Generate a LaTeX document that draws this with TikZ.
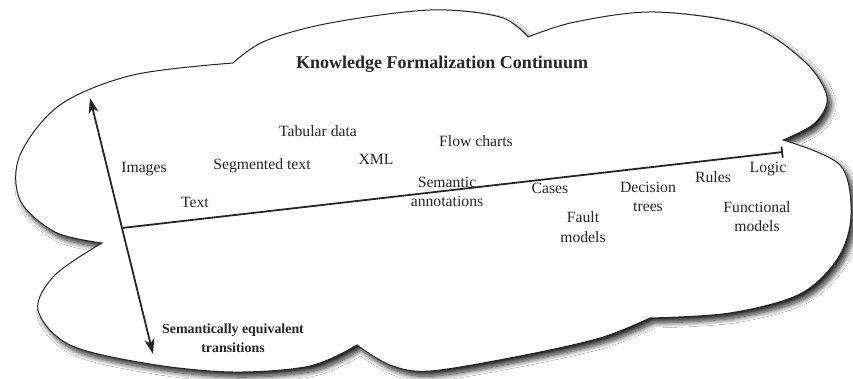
\documentclass[tikz,border=0pt]{standalone}
\usepackage{fontspec}
\setmainfont{Liberation Serif}
\usetikzlibrary{arrows.meta,shadows.blur}
\begin{document}
\begin{tikzpicture}[x=1pt,y=-1pt,
  cloudline/.style={draw=black!85, line width=1pt, fill=white,
    blur shadow={shadow xshift=4pt, shadow yshift=-5pt, shadow blur radius=5pt, shadow blur steps=12, shadow opacity=85}},
  lbl/.style={font=\fontsize{15.7}{19}\selectfont, align=center, anchor=base, inner sep=0pt, text=black!85},
  titlelbl/.style={font=\fontsize{18}{21}\selectfont\bfseries, anchor=base, inner sep=0pt, text=black!85},
  boldlbl/.style={font=\fontsize{13.9}{19}\selectfont\bfseries, align=center, anchor=base, inner sep=0pt, text=black!85},
  mainline/.style={line width=1.8pt, draw=black!85, -{Bar[width=11pt, line width=1.8pt]}},
  axisline/.style={line width=1.8pt, draw=black!85, {Stealth[length=15pt, width=10pt, inset=4pt]}-{Stealth[length=15pt, width=10pt, inset=4pt]}}
]
\useasboundingbox (0,0) rectangle (853,379);
\fill[white] (0,0) rectangle (853,379);

% cloud outline
\path[cloudline]
  plot[smooth, tension=0.55] coordinates {(233,63) (133,75) (60,105) (20,155) (20,200) (55,232) (102,243)}
  -- plot[smooth, tension=0.55] coordinates {(102,243) (55,275) (38,310) (70,345) (150,364) (233,372) (310,366) (357,345)}
  -- plot[smooth, tension=0.55] coordinates {(357,345) (390,365) (430,371) (520,356) (600,338) (650,318)}
  -- plot[smooth, tension=0.55] coordinates {(650,318) (730,313) (800,294) (838,258) (851,215) (840,165) (783,140)}
  -- plot[smooth, tension=0.55] coordinates {(783,140) (815,123) (827,97) (805,62) (750,26) (655,12) (575,22) (528,37)}
  -- plot[smooth, tension=0.55] coordinates {(528,37) (500,17) (430,10) (330,23) (265,41) (233,63)}
  -- cycle;

% title
\node[titlelbl] (title) at (442,69) {Knowledge Formalization Continuum};

% axes
\coordinate (o) at (122,228);
\coordinate (e) at (783,152);
\coordinate (up) at (90,98);
\coordinate (dn) at (153,354);
\draw[axisline] (up) -- (dn);
\draw[mainline] (o) -- (e);

% labels
\node[lbl] (images) at (144,173) {Images};
\node[lbl] (segtext) at (262,170) {Segmented text};
\node[lbl] (tabular) at (318,137) {Tabular data};
\node[lbl] (xml) at (376,165) {XML};
\node[lbl] (flow) at (476,147) {Flow charts};
\node[lbl] (text) at (195,208) {Text};
\node[lbl] (semann) at (447,207) {Semantic\\annotations};
\node[lbl] (cases) at (550,194) {Cases};
\node[lbl] (fault) at (583,242) {Fault\\models};
\node[lbl] (dec) at (648,212) {Decision\\trees};
\node[lbl] (rules) at (713,183) {Rules};
\node[lbl] (logic) at (768,173) {Logic};
\node[lbl] (func) at (757,232) {Functional\\models};
\node[boldlbl] (trans) at (233,352) {Semantically equivalent\\transitions};
\end{tikzpicture}
\end{document}
